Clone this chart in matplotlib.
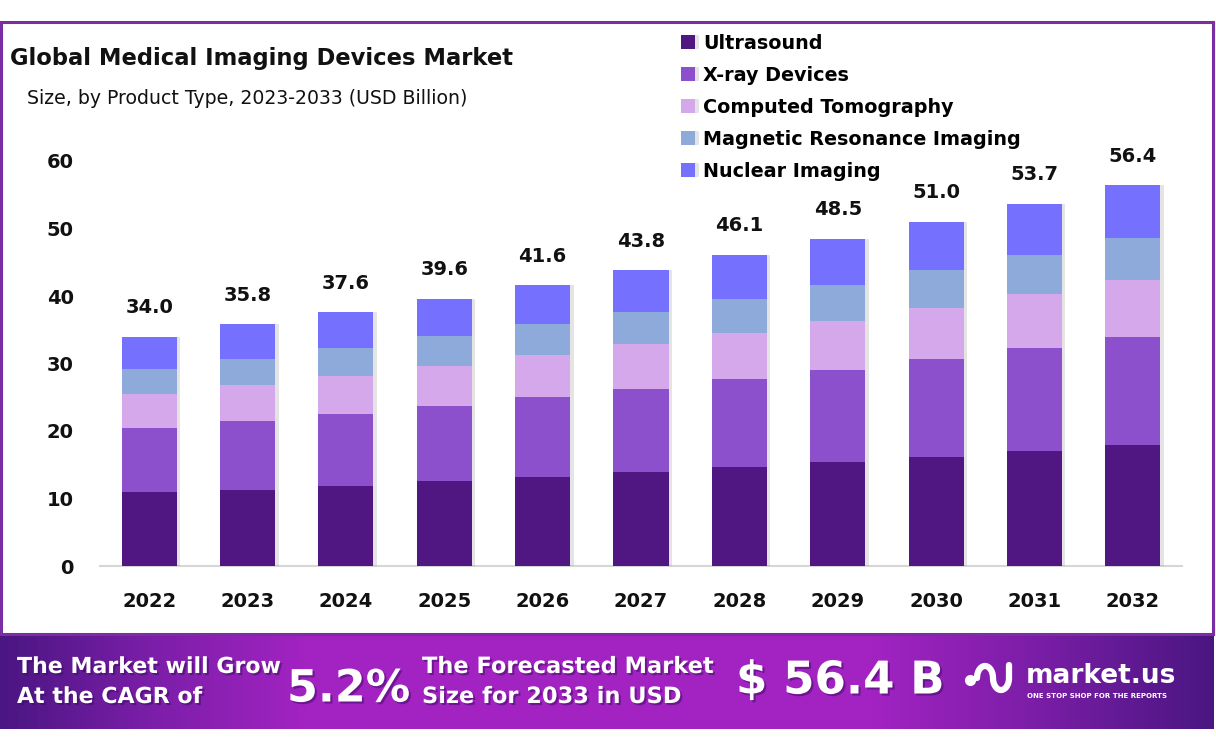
import numpy as np
import matplotlib
matplotlib.use("Agg")
import matplotlib.pyplot as plt
import matplotlib.patheffects as pe
from matplotlib.colors import LinearSegmentedColormap
from matplotlib.patches import Rectangle
from matplotlib.lines import Line2D

# donnees
annees = ['2022', '2023', '2024', '2025', '2026', '2027', '2028', '2029', '2030', '2031', '2032']
ultrasound = [10.9, 11.3, 11.9, 12.6, 13.2, 13.9, 14.7, 15.4, 16.1, 17.0, 17.9]
xray = [9.5, 10.2, 10.6, 11.1, 11.8, 12.3, 13.0, 13.6, 14.6, 15.3, 16.0]
ct = [5.1, 5.3, 5.6, 5.9, 6.3, 6.7, 6.8, 7.3, 7.5, 8.0, 8.5]
mri = [3.7, 3.9, 4.2, 4.5, 4.6, 4.7, 5.1, 5.3, 5.7, 5.8, 6.2]
nuclear = [4.8, 5.1, 5.3, 5.5, 5.7, 6.2, 6.5, 6.9, 7.1, 7.6, 7.8]
totaux = [34.0, 35.8, 37.6, 39.6, 41.6, 43.8, 46.1, 48.5, 51.0, 53.7, 56.4]

series = ['Ultrasound', 'X-ray Devices', 'Computed Tomography',
          'Magnetic Resonance Imaging', 'Nuclear Imaging']
couleurs = ['#501682', '#8c50cc', '#d4a8eb', '#8eaadb', '#7570fe']

W, H = 1216, 746
fig = plt.figure(figsize=(W / 100, H / 100), dpi=100)
fig.patch.set_facecolor('white')

def fx(px):
    return px / W

def fy(py):
    return 1 - py / H

# axe principal
ax = fig.add_axes([fx(100), fy(566), fx(1182) - fx(100), 62 * 6.75 / H])
x = np.arange(len(annees))
bas = np.zeros(len(annees))
ombre = [pe.SimplePatchShadow(offset=(2.5, 0), shadow_rgbFace='#888888', alpha=0.22), pe.Normal()]
handles = []
for nom, vals, c in zip(series, [ultrasound, xray, ct, mri, nuclear], couleurs):
    b = ax.bar(x, vals, 0.56, bottom=bas, color=c, label=nom, zorder=3)
    for r in b:
        r.set_path_effects(ombre)
    handles.append(b)
    bas = bas + np.array(vals)

for xi, top, t in zip(x, bas, totaux):
    ax.annotate(f'{t:.1f}', (xi, top), xytext=(0, 20.8), textcoords='offset points',
                ha='center', va='center', fontsize=14, fontweight='bold', color='#111111')

ax.set_xlim(-0.5, 10.5)
ax.set_ylim(0, 62)
ax.set_yticks([0, 10, 20, 30, 40, 50, 60])
ax.set_xticks(x)
ax.set_xticklabels(annees)
ax.tick_params(axis='both', length=0, labelsize=14, colors='#111111')
ax.tick_params(axis='y', pad=19)
ax.tick_params(axis='x', pad=19)
for lab in ax.get_xticklabels() + ax.get_yticklabels():
    lab.set_fontweight('bold')
for s in ['top', 'right', 'left']:
    ax.spines[s].set_visible(False)
ax.spines['bottom'].set_color('#d6d6d6')
ax.spines['bottom'].set_linewidth(1.5)
ax.set_facecolor('none')

# legende
fig.legend(handles=handles, labels=series, loc='upper left',
           bbox_to_anchor=(fx(681), fy(34)), frameon=False,
           handlelength=0.75, handleheight=0.75, handletextpad=0.4,
           labelspacing=0.68, borderpad=0, borderaxespad=0,
           prop={'weight': 'bold', 'size': 13.8})

# titres
fig.text(fx(10), fy(58), 'Global Medical Imaging Devices Market', fontsize=16.3,
         fontweight='bold', va='center', ha='left', color='#111111')
fig.text(fx(27), fy(98), 'Size, by Product Type, 2023-2033 (USD Billion)', fontsize=13.6,
         va='center', ha='left', color='#111111')

# cadre violet
fig.patches.append(Rectangle((fx(1), fy(634)), fx(1213) - fx(1), fy(22) - fy(634),
                             transform=fig.transFigure, fill=False,
                             edgecolor='#7b2da3', linewidth=2.2, zorder=1))

# bandeau du bas
bandeau = fig.add_axes([0, fy(729), fx(1214), (729 - 634) / H])
cmap = LinearSegmentedColormap.from_list('bandeau', [
    (0.0, '#4a1682'), (0.12, '#7a1ea8'), (0.25, '#a223c2'),
    (0.72, '#a223c2'), (0.85, '#7c1ea8'), (1.0, '#4a1682')])
bandeau.imshow(np.linspace(0, 1, 512).reshape(1, -1), aspect='auto', cmap=cmap,
               extent=[0, 1, 0, 1])
bandeau.set_axis_off()

txt_ombre = [pe.SimplePatchShadow(offset=(1.5, -1.5), shadow_rgbFace='#3a0a60', alpha=0.5), pe.Normal()]

def texte(px, py, s, taille, ha='left'):
    fig.text(fx(px), fy(py), s, fontsize=taille, fontweight='bold', color='white',
             ha=ha, va='center', path_effects=txt_ombre, zorder=5)

texte(17, 667, 'The Market will Grow', 15.9)
texte(17, 697, 'At the CAGR of', 15.9)
texte(287, 689, '5.2%', 32)
texte(422, 667, 'The Forecasted Market', 16.2)
texte(422, 697, 'Size for 2033 in USD', 16.2)
texte(736, 681, '$ 56.4 B', 32.5)

# logo market.us
t = np.linspace(0, np.pi, 40)
arc1_x = 985 + 8 * np.cos(np.pi - t)
arc1_y = 678 - 12 * np.sin(t)
arc2_x = 1001 + 8 * np.cos(np.pi - t)
arc2_y = 678 + 12 * np.sin(t)
lx = np.concatenate([arc1_x, arc2_x, [1009, 1009]])
ly = np.concatenate([arc1_y, arc2_y, [678, 665]])
fig.lines.append(Line2D(fx(lx), fy(ly), transform=fig.transFigure, color='white',
                        linewidth=4.5, solid_capstyle='round', zorder=6))
fig.lines.append(Line2D([fx(970)], [fy(680)], transform=fig.transFigure, marker='o',
                        markersize=7, color='white', linestyle='none', zorder=6))
fig.text(fx(1026), fy(676), 'market.us', fontsize=19, fontweight='bold', color='white',
         ha='left', va='center', zorder=6)
fig.text(fx(1027), fy(696), 'ONE STOP SHOP FOR THE REPORTS', fontsize=5, fontweight='bold',
         color='white', ha='left', va='center', zorder=6)

fig.savefig('out.png', dpi=100, facecolor='white')
